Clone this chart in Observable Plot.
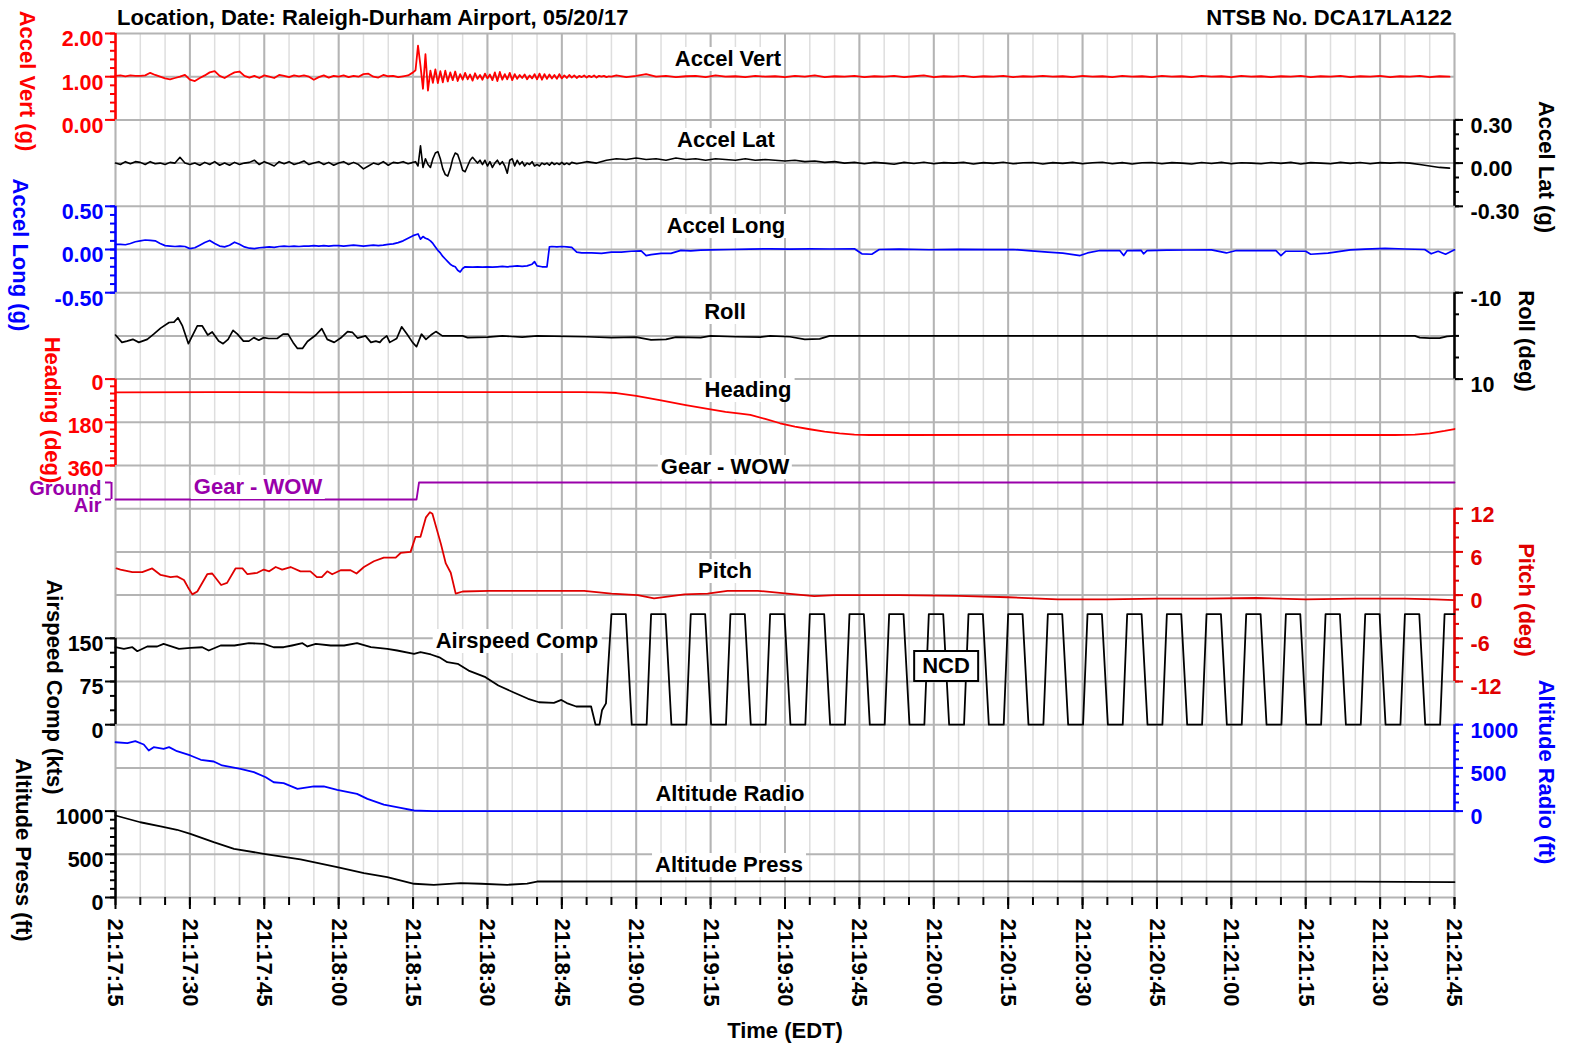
<!DOCTYPE html>
<html>
<head>
<meta charset="utf-8">
<title>Raleigh-Durham Airport FDR plot</title>
<script src="https://cdn.jsdelivr.net/npm/d3@7"></script>
<script src="https://cdn.jsdelivr.net/npm/@observablehq/plot@0.6"></script>
<style>
html, body { margin: 0; padding: 0; background: #fff; overflow: hidden; }
#wrap { position: relative; width: 1569px; height: 1047px; overflow: hidden; font-family: "Liberation Sans", Arial, sans-serif; font-weight: bold; color: #000; }
#wrap svg { position: absolute; left: 0; top: 0; }
.lbl { position: absolute; white-space: nowrap; font-size: 22px; line-height: 22px; transform: translate(-50%, -50%); }
.rot { transform: translate(-50%, -50%) rotate(90deg); }
.tl { transform: translate(0, -50%); }
.tr { transform: translate(-100%, -50%); }
.box { background: #fff; padding: 1px 3px; }
.ncd { background: #fff; border: 2px solid #000; padding: 3px 7px; line-height: 22px; }
</style>
</head>
<body>
<div id="wrap"></div>
<script>
// ---------- text ----------
const titleLeft = "Location, Date: Raleigh-Durham Airport, 05/20/17";
const titleRight = "NTSB No. DCA17LA122";
const xTitle = "Time (EDT)";

// ---------- time axis (seconds after 21:17:15) ----------
const timeMajor = [0, 15, 30, 45, 60, 75, 90, 105, 120, 135, 150, 165, 180, 195, 210, 225, 240, 255, 270];
const timeLabels = ["21:17:15", "21:17:30", "21:17:45", "21:18:00", "21:18:15", "21:18:30", "21:18:45",
  "21:19:00", "21:19:15", "21:19:30", "21:19:45", "21:20:00", "21:20:15", "21:20:30", "21:20:45",
  "21:21:00", "21:21:15", "21:21:30", "21:21:45"];
const timeMinor = d3.range(0, 271, 5);
const gridRows = [0, 1, 2, 3, 4, 5, 6, 7, 8, 9, 10, 11, 12, 13, 14, 15, 16, 17, 18, 19, 20];

// ---------- axis ticks ----------
const vertMajor = [0, 1, 2];
const vertMinor = [0, 0.2, 0.4, 0.6, 0.8, 1, 1.2, 1.4, 1.6, 1.8, 2];
const latMajor = [-0.3, 0, 0.3];
const latMinor = [-0.3, -0.2, -0.1, 0, 0.1, 0.2, 0.3];
const longMajor = [-0.5, 0, 0.5];
const longMinor = [-0.5, -0.4, -0.3, -0.2, -0.1, 0, 0.1, 0.2, 0.3, 0.4, 0.5];
const rollMajor = [-10, 10];
const rollMinor = [-10, -5, 0, 5, 10];
const headingMajor = [0, 180, 360];
const headingMinor = [0, 30, 60, 90, 120, 150, 180, 210, 240, 270, 300, 330, 360];
const wowTicks = [0, 1];
const wowLabels = ["Air", "Ground"];
const pitchMajor = [-12, -6, 0, 6, 12];
const pitchMinor = [-12, -10, -8, -6, -4, -2, 0, 2, 4, 6, 8, 10, 12];
const speedMajor = [0, 75, 150];
const speedMinor = [0, 25, 50, 75, 100, 125, 150];
const altMajor = [0, 500, 1000];
const altMinor = [0, 100, 200, 300, 400, 500, 600, 700, 800, 900, 1000];

// ---------- data ----------
// Accel Vert (g): 1 s samples 0..60, 0.5 s samples 60.5..100, 2 s samples 101..269
const accelVertPre = [1.02,1.03,1.01,1.03,1.02,1.02,1.03,1.09,1.04,1.00,
  0.96,0.94,0.97,1.00,1.04,0.93,0.90,0.97,1.03,1.10,
  1.13,1.02,0.97,1.04,1.10,1.12,1.02,0.98,1.02,0.97,
  1.03,1.00,0.97,1.04,1.02,0.99,1.03,1.01,1.03,1.00,
  0.93,0.99,1.03,0.98,1.02,1.00,1.03,0.99,1.02,1.00,
  1.06,1.07,1.00,0.98,1.04,1.01,1.02,0.99,1.01,1.03,
  1.10];
const accelVertTouch = [1.15,1.72,1.25,0.72,1.52,0.68,1.14,0.86,1.17,0.85,
  1.13,0.87,1.14,0.89,1.10,0.92,1.12,0.90,1.06,0.93,
  1.09,0.94,1.05,0.91,1.08,0.95,1.04,0.93,1.07,0.96,
  1.05,0.92,1.10,0.90,1.11,0.93,1.06,0.94,1.09,0.92,
  1.06,0.95,1.04,0.97,1.05,0.94,1.03,0.96,1.06,0.94,
  1.07,0.93,1.06,0.95,1.05,0.96,1.04,0.95,1.06,0.96,
  1.03,0.97,1.04,0.98,1.03,0.97,1.02,0.99,1.03,0.98,
  1.02,0.99,1.03,0.98,1.02,1.00,1.02,0.99,1.01,1.00];
const accelVertPost = [1.03,0.99,1.02,1.06,1.00,1.02,
  0.99,1.01,1.02,0.99,1.03,1.00,1.01,0.99,1.02,1.00,
  1.01,0.99,1.02,1.00,1.03,0.99,1.01,1.00,1.02,0.99,
  1.01,1.00,1.02,0.99,1.01,1.03,0.99,1.01,1.00,1.02,
  0.99,1.01,1.00,1.02,0.99,1.01,1.00,1.02,1.00,1.01,
  0.99,1.02,1.00,1.01,0.99,1.02,1.00,1.01,0.99,1.02,
  1.00,1.01,0.99,1.02,1.00,1.01,0.99,1.02,1.00,1.01,
  0.99,1.01,1.00,1.02,0.99,1.01,1.00,1.02,0.99,1.01,
  1.00,1.02,0.99,1.01,1.00,1.02,0.99,1.01,1.00];

// Accel Lat (g): 1 s samples 0..60, 0.5 s samples 60.5..92, 2 s samples 93..269
const accelLatPre = [0.00,-0.01,0.01,-0.005,0.01,0.005,-0.01,0.01,-0.005,0.00,
  -0.01,0.005,0.00,0.04,0.00,-0.01,0.00,-0.015,0.005,-0.01,
  0.01,-0.015,0.00,-0.015,0.005,-0.01,0.00,0.005,0.02,-0.01,
  0.01,-0.005,-0.02,0.01,-0.005,0.01,-0.01,0.00,0.015,-0.01,
  0.00,0.01,-0.01,0.005,-0.015,0.00,0.01,-0.01,0.005,-0.01,
  -0.04,-0.02,0.00,-0.01,0.01,-0.015,0.005,0.00,0.01,-0.005,
  0.005];
const accelLatTouch = [0.01,-0.02,0.12,-0.03,0.03,-0.01,-0.03,0.03,0.07,0.08,
  0.03,-0.04,-0.08,-0.09,-0.04,0.03,0.07,0.06,0.01,-0.05,
  -0.06,-0.02,0.02,0.04,0.02,0.00,0.02,-0.01,0.02,-0.02,
  0.01,-0.03,0.00,0.02,-0.01,0.01,-0.02,-0.07,0.02,0.03,
  -0.02,0.02,-0.01,0.01,-0.02,0.00,-0.01,0.01,-0.02,-0.01,
  -0.02,0.00,-0.01,0.00,-0.015,0.005,-0.01,0.00,-0.01,0.005,
  -0.01,0.00,-0.01,0.005];
const accelLatPost = [-0.005,0.01,0.00,0.02,0.03,0.025,0.035,0.025,0.03,0.02,
  0.035,0.025,0.03,0.02,0.03,0.025,0.02,0.03,0.02,0.025,
  0.02,0.015,0.02,0.01,0.015,0.005,0.01,0.00,0.005,
  -0.005,0.005,0.00,-0.008,0.005,-0.003,0.006,-0.005,0.003,0.00,
  0.005,-0.006,0.003,-0.002,0.006,-0.005,0.002,0.004,-0.006,0.003,
  -0.002,0.005,-0.005,0.002,0.006,-0.004,0.003,-0.006,0.002,0.004,
  -0.005,0.003,0.00,-0.006,0.004,-0.003,0.005,-0.004,0.002,0.00,
  -0.005,0.004,-0.002,0.005,-0.006,0.003,0.00,-0.004,0.005,-0.002,
  0.004,-0.005,0.003,0.00,0.004,
  0.00,-0.01,-0.02,-0.03,-0.035];

// Accel Long (g): [seconds, g]
const accelLong = [[0,0.06],[1,0.06],[2,0.055],[3,0.07],[4,0.09],[5,0.1],[6,0.11],[7,0.105],[8,0.1],[9,0.07],
  [10,0.045],[11,0.04],[12,0.035],[13,0.04],[14,0.035],[15,0.01],[16,0.02],[17,0.05],[18,0.08],[19,0.105],
  [20,0.07],[21,0.04],[22,0.03],[23,0.05],[24,0.085],[25,0.06],[26,0.03],[27,0.015],[28,0.01],[29,0.02],
  [30,0.025],[31,0.03],[32,0.025],[33,0.035],[34,0.04],[35,0.035],[36,0.04],[37,0.035],[38,0.04],[39,0.04],
  [40,0.045],[41,0.04],[42,0.045],[43,0.04],[44,0.045],[45,0.045],[46,0.04],[47,0.045],[48,0.05],[49,0.045],
  [50,0.04],[51,0.045],[52,0.05],[53,0.045],[54,0.05],[55,0.06],[56,0.065],[57,0.08],[58,0.1],[59,0.13],
  [60,0.16],[61,0.18],[61.5,0.12],[62,0.15],[62.5,0.13],[63,0.12],[63.5,0.1],[64,0.07],[64.5,0.03],[65,-0.01],
  [65.5,-0.04],[66,-0.08],[66.5,-0.11],[67,-0.14],[67.5,-0.17],[68,-0.19],[68.5,-0.2],[69,-0.24],[69.5,-0.26],[70,-0.22],
  [70.5,-0.2],[72,-0.205],[73,-0.2],[74,-0.205],[75,-0.2],[76,-0.205],[77,-0.2],[78,-0.195],[79,-0.2],[80,-0.195],
  [81,-0.19],[82,-0.195],[83,-0.19],[84,-0.17],[84.5,-0.14],[85,-0.19],[86,-0.2],[87,-0.2],[87.5,0.03],[88,0.035],
  [89,0.03],[90,0.035],[91,0.03],[92,0.025],[93,-0.03],[94,-0.04],[96,-0.04],[98,-0.045],[100,-0.03],[102,-0.03],
  [104,-0.02],[106,-0.015],[107,-0.07],[108,-0.06],[110,-0.045],[112,-0.045],[114,-0.01],[116,-0.015],[118,-0.008],[120,-0.004],
  [124,0.0],[128,0.005],[132,0.008],[136,0.005],[140,0.008],[144,0.006],[149,0.008],[150.5,-0.05],[152.5,-0.055],[154,0.0],
  [158,0.004],[164,-0.003],[170,0.002],[176,-0.002],[181,0.0],[184,-0.012],[188,-0.03],[191,-0.043],[194.5,-0.07],[196,-0.04],
  [198.5,-0.012],[202.5,-0.012],[203.3,-0.07],[204,-0.012],[206.8,-0.01],[207.3,-0.05],[208,-0.012],[212,-0.008],[216,-0.006],[221,-0.004],
  [224,-0.04],[226,-0.012],[230,-0.012],[234,-0.012],[235,-0.07],[236,-0.02],[240,-0.02],[241,-0.055],[244.5,-0.043],[249,-0.004],
  [252,0.005],[256,0.012],[260,0.006],[264,0.0],[265.3,-0.05],[266.7,-0.02],[268.2,-0.055],[270,-0.004]];

// Roll (deg)
const roll = [[0,-0.2],[1.3,1.5],[2.3,1.2],[3.5,0.8],[4.7,1.5],[6.4,0.8],[7.7,-0.4],[9.1,-1.8],[10.8,-3.1],[11.8,-3.2],
  [12.6,-4.2],[13.5,-2.3],[14.7,1.8],[16.5,-2.3],[17.5,-2.3],[18.6,-0.2],[19.5,-0.9],[20.8,1.2],[21.7,1.8],[22.7,0.8],
  [23.7,-1.3],[24.6,-0.4],[25.8,1.2],[26.9,1.2],[27.9,0.4],[28.9,1.0],[29.9,0.4],[30.9,0.6],[32.6,0.6],[33.8,-0.4],
  [34.8,-0.4],[35.8,1.5],[36.7,2.9],[37.7,2.9],[38.7,1.3],[40.4,-0.2],[41.6,-1.7],[42.7,0.8],[44.1,1.5],[45.4,0.5],
  [46.8,-1.0],[47.8,-0.8],[48.8,0.5],[50.4,0.0],[51.5,1.5],[52.5,1.2],[53.3,1.5],[53.8,0.8],[54.7,0.0],[55.3,1.5],
  [56.7,0.6],[57.7,-2.1],[58.8,-0.4],[59.9,1.5],[60.7,2.5],[61.7,-0.4],[62.6,0.8],[63.6,-0.2],[64.6,-1.0],[65.9,0.0],
  [70,0.0],[71,0.4],[75,0.3],[78,0.0],[82,0.3],[85,0.0],[95,0.2],[100,0.4],[105,0.3],[108,0.9],
  [111,0.8],[113,0.3],[118,0.4],[120,0.0],[125,0.2],[130,0.3],[132,0.0],[136,0.2],[139,0.8],[142,0.7],
  [144,0.0],[262,0.0],[263,0.4],[265,0.5],[267,0.5],[268.5,0.1],[270,0.0]];

// Heading (deg)
const heading = [[0,55],[20,54],[40,55],[60,54],[80,54],[94,54],[98,55],[101,58],[105,70],[110,89],
  [115,108],[120,126],[123,137],[126,144],[128,149],[131,166],[134,184],[137,198],[140,209],[143,219],
  [146,226],[149,231],[152,233],[160,233],[200,232],[240,233],[258,233],[262,231],[265,226],[268,216],[270,208]];

// Gear - WOW (0 = Air, 1 = Ground)
const gearWow = [[0,0],[60.7,0],[61.2,1],[270,1]];

// Pitch (deg)
const pitch = [[0.2,3.7],[1,3.55],[3.4,3.2],[5.4,3.2],[7.4,3.7],[9.1,2.8],[11.1,2.5],[12.4,2.6],[13.8,2.1],[14.6,1.1],
  [15.5,0.1],[16.5,0.5],[18.5,2.9],[19.5,3.0],[21.3,1.4],[22.5,1.7],[24.2,3.7],[25.6,3.7],[26.6,2.9],[28.6,3.1],
  [29.9,3.55],[31,3.3],[32.3,3.9],[33.6,3.55],[35.3,3.9],[37.3,3.3],[39.3,3.3],[40.6,2.5],[41.6,2.5],[42.7,3.3],
  [43.7,2.9],[45.4,3.45],[47.4,3.45],[48.6,3.0],[50.1,3.9],[52.1,4.7],[54.1,5.2],[56.5,5.2],[57.5,5.85],[59.5,6.0],
  [60.5,8.1],[61.5,8.1],[62.6,10.8],[63.4,11.5],[63.9,11.3],[65.6,7.15],[66.6,4.4],[67.6,3.1],[68.6,0.2],[70,0.5],
  [75.3,0.6],[79,0.6],[94.5,0.6],[100,0.2],[105.3,0.0],[108.6,-0.45],[111.3,-0.2],[114.7,0.1],[119.4,0.2],[123.4,0.6],
  [129.5,0.6],[135.5,0.2],[140.9,-0.15],[145,0.0],[158,0.0],[170,-0.1],[180,-0.3],[190,-0.6],[200,-0.6],[210,-0.5],
  [220,-0.5],[230,-0.4],[240,-0.6],[250,-0.5],[260,-0.5],[266,-0.6],[270,-0.7]];

// Airspeed Comp (kts), then NCD (no computed data) cycling
const airspeed = [[0,134.5],[1.7,131.8],[3.4,134.5],[4.4,127.6],[6.4,135.8],[8.4,135.8],[9.7,140.4],[12.8,131.8],[15.1,133.5],[17.5,134.5],
  [18.8,128.8],[21.2,137.5],[24,137.5],[26.9,141.5],[29.9,140.4],[31.9,134.5],[33.9,134.5],[35.6,137.5],[37.7,141.5],[38.7,135.8],
  [40.4,140.4],[43.4,137.5],[46.1,137.5],[48.7,141.5],[51.5,134.5],[54.8,131.8],[56.8,128.8],[60.2,123.1],[61.5,125.9],[63.6,121.9],
  [65.3,117],[66.9,108.5],[69,105.7],[71.2,94],[74.6,82.5],[77.2,68],[80.2,56.4],[83.2,45],[85.4,39],[88.4,38],
  [89.9,43],[91,37.6],[92.9,31.6],[95.9,31.6],[96.8,0],[97.6,0],[98.1,25],[98.9,37]];
const airspeedNcd = [
  [100,192],[102.9,192],[104.1,0],[107.1,0], [108,192],[110.9,192],[112.1,0],[115.1,0],
  [116,192],[118.9,192],[120.1,0],[123.1,0], [124,192],[126.9,192],[128.1,0],[131.1,0],
  [132,192],[134.9,192],[136.1,0],[139.1,0], [140,192],[142.9,192],[144.1,0],[147.1,0],
  [148,192],[150.9,192],[152.1,0],[155.1,0], [156,192],[158.9,192],[160.1,0],[163.1,0],
  [164,192],[166.9,192],[168.1,0],[171.1,0], [172,192],[174.9,192],[176.1,0],[179.1,0],
  [180,192],[182.9,192],[184.1,0],[187.1,0], [188,192],[190.9,192],[192.1,0],[195.1,0],
  [196,192],[198.9,192],[200.1,0],[203.1,0], [204,192],[206.9,192],[208.1,0],[211.1,0],
  [212,192],[214.9,192],[216.1,0],[219.1,0], [220,192],[222.9,192],[224.1,0],[227.1,0],
  [228,192],[230.9,192],[232.1,0],[235.1,0], [236,192],[238.9,192],[240.1,0],[243.1,0],
  [244,192],[246.9,192],[248.1,0],[251.1,0], [252,192],[254.9,192],[256.1,0],[259.1,0],
  [260,192],[262.9,192],[264.1,0],[267.1,0], [268,192],[270,192]];

// Altitude Radio (ft)
const altRadio = [[0,797],[2.4,786],[4,809],[5.7,771],[6.7,701],[7.7,740],[9.7,721],[10.8,740],[12.4,693],[15.1,644],
  [17.2,594],[19.8,574],[21.5,528],[25.2,490],[27.9,451],[30.3,392],[31.9,334],[33.9,323],[36.7,258],[40,285],
  [42,285],[44.7,247],[48.7,200],[50.8,142],[54.1,76],[57.5,38],[60.2,7],[64,0],[270,0]];

// Altitude Press (ft)
const altPress = [[0,949],[5,871],[9.1,822],[12.4,784],[15.1,737],[19.8,640],[23.9,564],[29.9,506],[37.3,440],[44.7,351],
  [50.1,281],[54.8,235],[60.2,159],[64.2,147],[69.6,166],[73.7,159],[79,147],[83,160],[85,185],[150,187],
  [200,185],[250,183],[270,178]];

// ---------- build ----------
const W = 1569, H = 1047;
const FONT = '"Liberation Sans", Arial, sans-serif';
const RED = "#ff0000", BLUE = "#0000ff", PURPLE = "#9900aa", PRED = "#e00000", BLACK = "#000000";
const row = k => 33 + 43.2 * k;
const seg = (t0, step, values) => values.map((v, i) => [t0 + i * step, v]);
const accelVert = [...seg(0, 1, accelVertPre), ...seg(60.5, 0.5, accelVertTouch), ...seg(101, 2, accelVertPost)];
const accelLat = [...seg(0, 1, accelLatPre), ...seg(60.5, 0.5, accelLatTouch), ...seg(93, 2, accelLatPost)];
const airspeedAll = [...airspeed, ...airspeedNcd];

const common = {
  width: W, height: H, marginLeft: 115, marginRight: 115, marginTop: 33, marginBottom: 150,
  x: {domain: [0, 270], axis: null},
  style: {background: "transparent", overflow: "visible", fontFamily: FONT, fontWeight: "bold", fontSize: "21.5px", color: "#000"}
};

function panel(yOpts, marks) {
  return Plot.plot({...common, y: {...yOpts, axis: null}, marks});
}

function yAxis(side, domain, major, minor, color, fmt, dyLabel = 6) {
  const left = side === "left";
  return [
    Plot.ruleX([left ? 0 : 270], {y1: domain[0], y2: domain[1], stroke: color, strokeWidth: 2.5}),
    Plot.axisY(minor, {anchor: side, tickSize: left ? 5 : 4, stroke: color, fill: "none", strokeWidth: 2, label: null}),
    Plot.axisY(major, {anchor: side, tickSize: left ? 10 : 8, stroke: color, fill: "none", strokeWidth: 2, label: null}),
    Plot.axisY(major, {anchor: side, tickSize: 0, tickPadding: left ? 12 : 16, dy: dyLabel, fill: color, stroke: "none",
      tickFormat: fmt, fontSize: 21.5, fontWeight: "bold", label: null})
  ];
}

function series(data, color, width = 1.7) {
  return Plot.line(data, {x: d => d[0], y: d => d[1], stroke: color, strokeWidth: width});
}

const f2 = d => d.toFixed(2);
const f0 = d => String(d);

const wrap = document.getElementById("wrap");

const base = Plot.plot({
  ...common,
  y: {domain: [0, 20], axis: null},
  marks: [
    Plot.ruleX(timeMinor, {stroke: "#dedede", strokeWidth: 1.5}),
    Plot.ruleX(timeMajor, {stroke: "#b4b4b4", strokeWidth: 2}),
    Plot.ruleY(gridRows, {stroke: "#b4b4b4", strokeWidth: 2}),
    Plot.axisX(timeMinor, {anchor: "bottom", tickSize: 8, stroke: BLACK, fill: "none", strokeWidth: 2, label: null}),
    Plot.axisX(timeMajor, {anchor: "bottom", tickSize: 12, stroke: BLACK, fill: "none", strokeWidth: 2, label: null}),
    Plot.axisX(timeMajor, {anchor: "bottom", tickSize: 0, tickPadding: 21, tickRotate: 90, textAnchor: "start", lineAnchor: "middle",
      fill: BLACK, stroke: "none", fontSize: 22, fontWeight: "bold", label: null,
      tickFormat: d => timeLabels[timeMajor.indexOf(d)]})
  ]
});
wrap.appendChild(base);

const panels = [
  panel({domain: [0, 2], range: [row(2), row(0)]}, [
    ...yAxis("left", [0, 2], vertMajor, vertMinor, RED, f2),
    series(accelVert, RED, 1.8)
  ]),
  panel({domain: [-0.3, 0.3], range: [row(4), row(2)]}, [
    ...yAxis("right", [-0.3, 0.3], latMajor, latMinor, BLACK, f2),
    series(accelLat, BLACK, 1.6)
  ]),
  panel({domain: [-0.5, 0.5], range: [row(6), row(4)]}, [
    ...yAxis("left", [-0.5, 0.5], longMajor, longMinor, BLUE, f2),
    series(accelLong, BLUE, 1.7)
  ]),
  panel({domain: [-10, 10], range: [row(6), row(8)]}, [
    ...yAxis("right", [-10, 10], rollMajor, rollMinor, BLACK, f0),
    series(roll, BLACK, 1.7)
  ]),
  panel({domain: [0, 360], range: [row(8), row(10)]}, [
    ...yAxis("left", [0, 360], headingMajor, headingMinor, RED, f0, 4),
    series(heading, RED, 1.8)
  ]),
  panel({domain: [0, 1], range: [row(10) + 34, row(10) + 17]}, [
    Plot.ruleX([0], {y1: 0, y2: 1, stroke: PURPLE, strokeWidth: 2, dx: -4}),
    Plot.axisY(wowTicks, {anchor: "left", tickSize: 6, dx: -4, stroke: PURPLE, fill: "none", strokeWidth: 2, label: null}),
    Plot.axisY(wowTicks, {anchor: "left", tickSize: 0, tickPadding: 14, dy: 6, fill: PURPLE, stroke: "none",
      tickFormat: d => wowLabels[d], fontSize: 20, fontWeight: "bold", label: null}),
    series(gearWow, PURPLE, 1.8)
  ]),
  panel({domain: [-12, 12], range: [row(15), row(11)]}, [
    ...yAxis("right", [-12, 12], pitchMajor, pitchMinor, PRED, f0),
    series(pitch, PRED, 1.8)
  ]),
  panel({domain: [0, 150], range: [row(16), row(14)]}, [
    ...yAxis("left", [0, 150], speedMajor, speedMinor, BLACK, f0),
    series(airspeedAll, BLACK, 1.8)
  ]),
  panel({domain: [0, 1000], range: [row(18), row(16)]}, [
    ...yAxis("right", [0, 1000], altMajor, altMinor, BLUE, f0),
    series(altRadio, BLUE, 1.8)
  ]),
  panel({domain: [0, 1000], range: [row(20), row(18)]}, [
    ...yAxis("left", [0, 1000], altMajor, altMinor, BLACK, f0),
    series(altPress, BLACK, 1.8)
  ])
];
panels.forEach(p => wrap.appendChild(p));

// ---------- labels ----------
function addText(txt, x, y, cls, color) {
  const d = document.createElement("div");
  d.className = "lbl " + (cls || "");
  d.textContent = txt;
  d.style.left = x + "px";
  d.style.top = y + "px";
  if (color) d.style.color = color;
  wrap.appendChild(d);
  return d;
}

addText(titleLeft, 117, 18, "tl");
addText(titleRight, 1452, 18, "tr");
addText(xTitle, 785, 1031, "");

// axis titles (rotated)
const axisTitles = [
  ["Accel Vert (g)", 27, 81, RED],
  ["Accel Long (g)", 20, 255, BLUE],
  ["Heading (deg)", 52, 410, RED],
  ["Airspeed Comp (kts)", 54, 687, BLACK],
  ["Altitude Press (ft)", 23, 850, BLACK],
  ["Accel Lat (g)", 1546, 167, BLACK],
  ["Roll (deg)", 1526, 341, BLACK],
  ["Pitch (deg)", 1526, 600, PRED],
  ["Altitude Radio (ft)", 1546, 772, BLUE]
];
axisTitles.forEach(([t, x, y, c]) => addText(t, x, y, "rot", c));

// series names
const seriesNames = [
  ["Accel Vert", 728, 59, BLACK],
  ["Accel Lat", 726, 140, BLACK],
  ["Accel Long", 726, 226, BLACK],
  ["Roll", 725, 312, BLACK],
  ["Heading", 748, 390, BLACK],
  ["Gear - WOW", 725, 467, BLACK],
  ["Gear - WOW", 258, 487, PURPLE],
  ["Pitch", 725, 571, BLACK],
  ["Airspeed Comp", 517, 641, BLACK],
  ["Altitude Radio", 730, 794, BLACK],
  ["Altitude Press", 729, 865, BLACK]
];
seriesNames.forEach(([t, x, y, c]) => addText(t, x, y, "box", c));

addText("NCD", 946, 666, "ncd");
</script>
</body>
</html>
